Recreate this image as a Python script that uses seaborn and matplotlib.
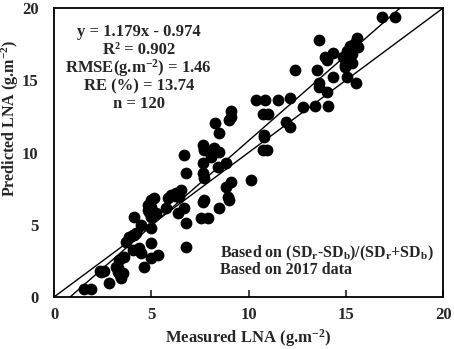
import numpy as np
import pandas as pd
import matplotlib
matplotlib.use("Agg")
import matplotlib.pyplot as plt
import seaborn as sns

# measured vs predicted LNA (g.m-2)
measured = [1.54, 1.9, 2.82, 2.36, 2.56, 3.28, 3.54, 3.44, 3.18, 3.33,
            3.59, 3.69, 3.85, 4.05, 4.2, 4.05, 4.36, 4.46, 4.6, 4.97,
            5.33, 4.97, 4.97, 4.1, 4.46, 4.82, 4.97, 5.13, 4.82, 5.08,
            5.23, 4.97, 5.74, 6.0, 6.26, 6.41, 6.36, 6.77, 6.77, 6.51,
            6.15, 5.85, 6.67, 8.3, 8.46, 8.97, 7.64, 7.69, 8.15, 8.46,
            8.05, 6.67, 7.64, 8.41, 8.82, 6.77, 7.64, 7.69, 9.08, 8.82,
            10.1, 10.77, 10.72, 10.97, 7.64, 7.69, 8.92, 8.97, 8.46, 7.54,
            7.9, 12.4, 13.5, 14.05, 14.97, 15.33, 14.36, 15.08, 15.5, 13.6,
            13.6, 14.05, 10.36, 10.87, 11.5, 12.15, 12.8, 13.4, 14.1, 10.72,
            11.0, 9.08, 9.08, 11.9, 12.15, 10.77, 16.87, 17.54, 13.6, 15.59,
            15.49, 15.64, 15.23, 15.08, 14.87, 15.13, 14.97, 13.95, 14.36, 5.0,
            4.9, 6.2, 3.4, 15.3, 15.0, 8.2, 7.7, 2.4, 4.1, 3.3]
predicted = [0.55, 0.55, 0.97, 1.8, 1.8, 1.73, 1.66, 1.31, 2.08, 2.56,
             2.77, 3.8, 4.15, 4.29, 4.43, 3.25, 3.39, 3.04, 2.08, 2.7,
             2.9, 3.74, 4.77, 5.54, 4.98, 6.37, 6.7, 6.85, 6.0, 5.88,
             5.81, 5.54, 6.16, 7.06, 7.2, 6.92, 5.81, 5.12, 3.46, 7.4,
             7.06, 6.85, 6.16, 12.04, 11.35, 12.25, 10.52, 10.17, 10.03, 10.03,
             9.69, 9.83, 9.27, 9.0, 9.27, 8.58, 8.58, 8.24, 7.96, 7.61,
             8.1, 11.07, 10.17, 10.17, 6.57, 6.7, 6.92, 6.7, 6.16, 5.47,
             5.47, 15.7, 15.7, 16.4, 16.06, 16.2, 15.2, 15.2, 14.8, 14.8,
             14.5, 14.2, 13.63, 13.63, 13.63, 13.77, 13.15, 13.2, 13.2, 12.7,
             12.7, 12.9, 12.45, 12.1, 11.76, 11.2, 19.38, 19.38, 17.8, 17.9,
             17.6, 17.3, 17.4, 17.0, 16.6, 16.3, 15.9, 16.6, 16.9, 6.2,
             5.9, 7.0, 1.5, 16.8, 16.5, 10.3, 10.3, 1.75, 4.3, 2.0]

slope, intercept = 1.179, -0.974
stats_lines = ["y = 1.179x - 0.974", "R² = 0.902",
               "RMSE(g.m$^{-2}$) = 1.46", "RE (%) = 13.74", "n = 120"]
note_lines = ["Based on (SD$_{r}$-SD$_{b}$)/(SD$_{r}$+SD$_{b}$)",
              "Based on 2017 data"]

df = pd.DataFrame({"Measured": measured, "Predicted": predicted})

sns.set_style("ticks")
plt.rcParams["font.family"] = ["Liberation Serif", "DejaVu Serif"]
plt.rcParams["font.weight"] = "bold"
plt.rcParams["mathtext.fontset"] = "custom"
plt.rcParams["mathtext.rm"] = "Liberation Serif:bold"
plt.rcParams["mathtext.it"] = "Liberation Serif:bold"
plt.rcParams["mathtext.bf"] = "Liberation Serif:bold"

fig = plt.figure(figsize=(4.54, 3.49), dpi=100)
ax = fig.add_axes([0.119, 0.149, 0.857, 0.828])

sns.scatterplot(data=df, x="Measured", y="Predicted", ax=ax, color="black",
                s=72, edgecolor="black", linewidth=0, zorder=3)

xs = np.array([0, 20])
ax.plot(xs, xs, color="black", lw=1.0, zorder=2)
xr = np.array([-intercept / slope, (20 - intercept) / slope])
ax.plot(xr, slope * xr + intercept, color="black", lw=1.0, zorder=2)

ax.set_xlim(0, 20)
ax.set_ylim(0, 20)
ax.set_xticks([0, 5, 10, 15, 20])
ax.set_yticks([0, 5, 10, 15, 20])
ax.tick_params(axis="x", direction="in", length=5, width=1.2, labelsize=12, pad=7)
ax.tick_params(axis="y", direction="in", length=0, labelsize=12, pad=11)
for lab in ax.get_xticklabels() + ax.get_yticklabels():
    lab.set_fontweight("bold")
for sp in ax.spines.values():
    sp.set_visible(True)
    sp.set_linewidth(1.3)
    sp.set_color("black")

ax.set_xlabel("Measured LNA (g.m$^{-2}$)", fontsize=12, fontweight="bold", labelpad=3)
ax.set_ylabel("Predicted LNA (g.m$^{-2}$)", fontsize=11.5, fontweight="bold")
ax.yaxis.set_label_coords(-0.085, 0.62)

for i, line in enumerate(stats_lines):
    ax.text(4.35, 18.35 - i * 1.25, line, ha="center", va="center",
            fontsize=12, fontweight="bold")

ax.text(8.55, 3.05, note_lines[0], ha="left", va="center",
        fontsize=11.5, fontweight="bold")
ax.text(8.55, 1.85, note_lines[1], ha="left", va="center",
        fontsize=11.5, fontweight="bold")

fig.savefig("out.png", dpi=100)
